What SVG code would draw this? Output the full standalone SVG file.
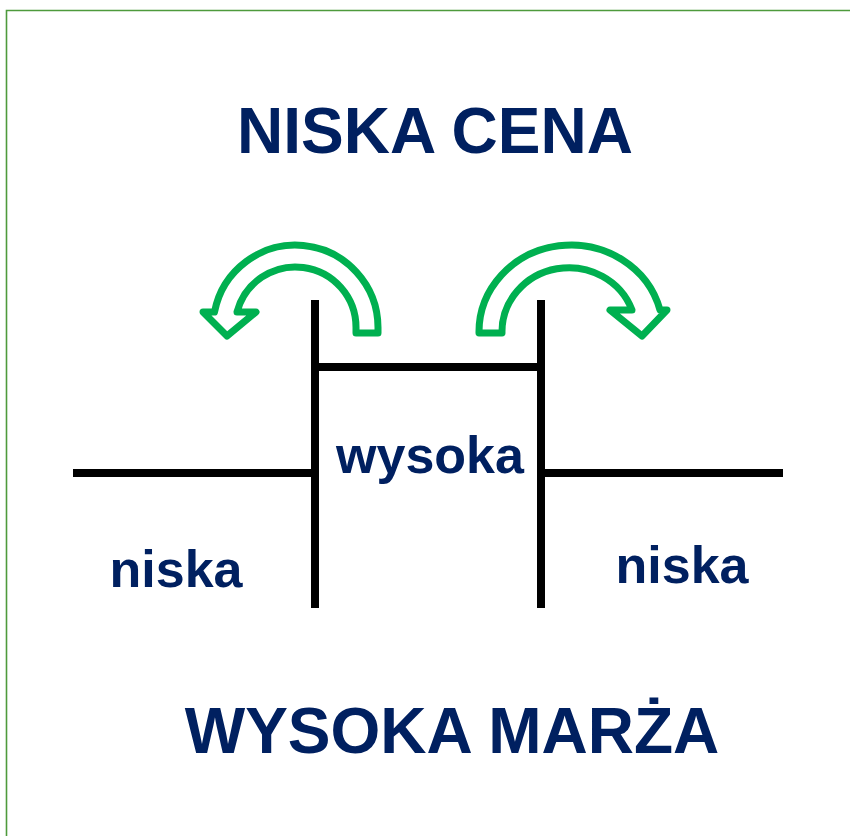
<svg xmlns="http://www.w3.org/2000/svg" width="850" height="836" viewBox="0 0 850 836">
<style>
.t{font-family:"Liberation Sans",Arial,sans-serif;font-weight:bold;fill:#002060;text-anchor:middle}
.big{font-size:64px}
.sm{font-size:52px}
.ln{stroke:#000;stroke-width:8;fill:none}
.arr{fill:#fff;stroke:#00B050;stroke-width:7;stroke-linejoin:round}
</style>
<rect width="850" height="836" fill="#fff"/>
<path d="M6.5 836V10.5H850" fill="none" stroke="#4E9A3C" stroke-width="1.6"/>
<g id="title-top"><text class="t big" x="435" y="153">NISKA CENA</text></g>
<g id="title-bottom"><text class="t big" x="452" y="753">WYSOKA MARŻA</text></g>
<g id="connectors">
<line class="ln" x1="315" y1="300" x2="315" y2="608"/>
<line class="ln" x1="541" y1="300" x2="541" y2="608"/>
<line class="ln" x1="315" y1="367" x2="541" y2="367"/>
<line class="ln" x1="73" y1="473" x2="315" y2="473"/>
<line class="ln" x1="541" y1="473" x2="783" y2="473"/>
</g>
<g id="arrow-left"><path class="arr" d="M356 333L378 333L378 327.5A82.5 82.5 0 0 0 214.5 312L203 312L227 336L256 312L237 312A60.5 60.5 0 0 1 356 327.5Z"/></g>
<g id="arrow-right"><path class="arr" d="M502 333L479 333A92 87 0 0 1 660 310L667 310L642 336L610 310L632 310A67 64 0 0 0 502 333Z"/></g>
<g id="label-wysoka"><text class="t sm" x="430" y="473">wysoka</text></g>
<g id="label-niska-left"><text class="t sm" x="176" y="587">niska</text></g>
<g id="label-niska-right"><text class="t sm" x="682" y="583">niska</text></g>
</svg>
